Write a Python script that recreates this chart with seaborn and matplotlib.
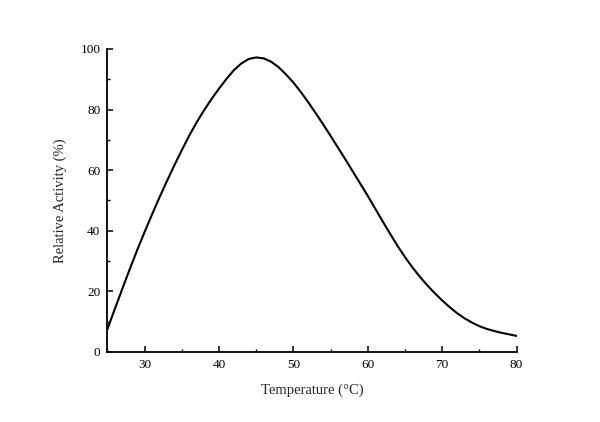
import seaborn as sns
import pandas as pd
import matplotlib.pyplot as plt
from matplotlib.ticker import MultipleLocator

# curve, one point per degree
temperature = list(range(25, 81))
activity = [7.5, 14.2, 20.8, 27.3, 33.6, 39.6, 45.4, 51.0, 56.4, 61.6,
            66.6, 71.4, 75.8, 79.8, 83.5, 86.9, 90.1, 93.0, 95.2, 96.7,
            97.2, 96.9, 95.8, 94.0, 91.6, 88.9, 85.8, 82.4, 78.8, 75.1,
            71.3, 67.4, 63.5, 59.5, 55.5, 51.5, 47.3, 43.1, 39.0, 35.0,
            31.3, 27.9, 24.8, 22.0, 19.4, 17.0, 14.8, 12.8, 11.1, 9.7,
            8.5, 7.6, 6.9, 6.3, 5.8, 5.3]

df = pd.DataFrame({'Temperature': temperature, 'Activity': activity})

sns.set_style('ticks')
plt.rcParams['font.family'] = ['Liberation Serif', 'DejaVu Serif']

fig = plt.figure(figsize=(6, 4.22), dpi=100)
ax = fig.add_axes([0.179, 0.166, 0.682, 0.718])

sns.lineplot(data=df, x='Temperature', y='Activity', color='black', linewidth=1.5, ax=ax)

ax.set_xlim(25, 80)
ax.set_ylim(0, 100)
ax.xaxis.set_major_locator(MultipleLocator(10))
ax.xaxis.set_minor_locator(MultipleLocator(5))
ax.yaxis.set_major_locator(MultipleLocator(20))
ax.yaxis.set_minor_locator(MultipleLocator(10))
ax.set_xticks([30, 40, 50, 60, 70, 80])

sns.despine(ax=ax)
for side in ['left', 'bottom']:
    ax.spines[side].set_linewidth(1.3)
    ax.spines[side].set_color('black')

ax.tick_params(which='major', direction='in', length=4, width=1.1, labelsize=9.5, colors='black', pad=5)
ax.tick_params(which='minor', direction='in', length=2.5, width=1.0, colors='black')

ax.set_xlabel('Temperature (°C)', fontsize=10.5, labelpad=9)
ax.set_ylabel('Relative Activity (%)', fontsize=10.5, labelpad=10)

fig.savefig('out.png', dpi=100)
